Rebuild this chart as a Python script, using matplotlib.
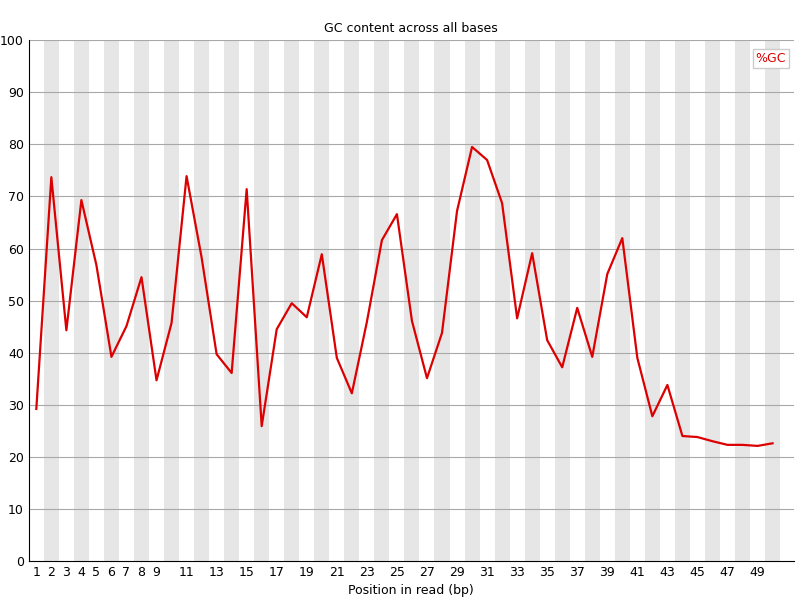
import matplotlib
matplotlib.use("Agg")
import matplotlib.pyplot as plt

positions = list(range(1, 51))
gc = [29.2, 73.7, 44.3, 69.3, 56.8, 39.2, 45.1, 54.5, 34.7, 45.7,
      73.9, 58.3, 39.7, 36.1, 71.4, 25.9, 44.5, 49.5, 46.8, 58.9,
      39.0, 32.2, 45.9, 61.6, 66.6, 46.1, 35.1, 43.8, 67.2, 79.5,
      77.0, 68.7, 46.6, 59.1, 42.4, 37.2, 48.6, 39.2, 55.1, 62.0,
      39.0, 27.8, 33.8, 24.0, 23.8, 23.0, 22.3, 22.3, 22.1, 22.6]
tick_pos = list(range(1, 10)) + list(range(11, 50, 2))

fig = plt.figure(figsize=(8, 6), dpi=100)
ax = fig.add_axes([0.036, 0.065, 0.956, 0.868])
for p in positions:
    if p % 2 == 0:
        ax.axvspan(p - 0.5, p + 0.5, color="#e6e6e6", lw=0, zorder=0)
for y in range(10, 101, 10):
    ax.axhline(y, color="#a8a8a8", lw=0.8, zorder=1)
ax.plot(positions, gc, color="#dd0000", lw=1.6, zorder=3)
ax.set_xlim(0.5, 51.4)
ax.set_ylim(0, 100)
ax.set_xticks(tick_pos)
ax.set_xticklabels([str(t) for t in tick_pos], fontsize=9)
ax.set_yticks(range(0, 101, 10))
ax.tick_params(axis="y", labelsize=9, length=0)
ax.tick_params(axis="x", length=0)
for s in ["top", "right"]:
    ax.spines[s].set_visible(False)
ax.set_xlabel("Position in read (bp)", fontsize=9)
ax.set_title("GC content across all bases", fontsize=9)
ax.text(0.99, 0.965, "%GC", transform=ax.transAxes, ha="right", va="center",
        color="#dd0000", fontsize=9,
        bbox=dict(facecolor="white", edgecolor="#cccccc", pad=2))
fig.savefig("out.png")
